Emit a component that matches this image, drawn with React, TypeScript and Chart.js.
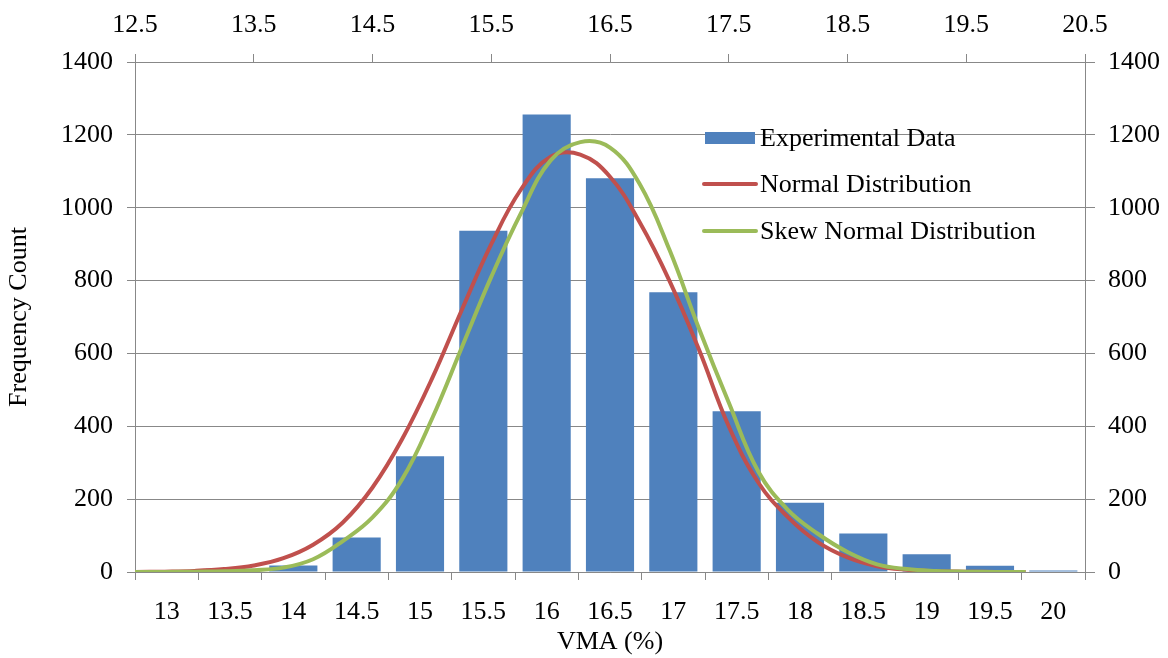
import React, { useEffect, useRef } from 'react';
import { Chart, registerables } from 'chart.js';

Chart.register(...registerables);

// ---- Data ----
const CATEGORIES = ['13', '13.5', '14', '14.5', '15', '15.5', '16', '16.5', '17', '17.5', '18', '18.5', '19', '19.5', '20'];
const EXPERIMENTAL = [1, 9, 18, 95, 318, 937, 1256, 1081, 768, 441, 190, 106, 49, 17, 4];

const CURVE_X = [12.5, 12.75, 13, 13.25, 13.5, 13.75, 14, 14.25, 14.5, 14.75, 15, 15.25, 15.5, 15.75, 16, 16.25, 16.5, 16.75, 17, 17.25, 17.5, 17.75, 18, 18.25, 18.5, 18.75, 19, 19.25, 19.5, 19.75, 20];
const NORMAL = [0, 1, 3, 8, 18, 38, 75, 136, 232, 365, 530, 718, 900, 1050, 1140, 1146, 1085, 960, 800, 610, 400, 245, 150, 82, 40, 16, 6, 2, 1, 0, 0];
const SKEW = [0, 0, 1, 2, 5, 12, 35, 85, 150, 255, 420, 615, 810, 985, 1130, 1180, 1165, 1065, 885, 668, 465, 275, 170, 105, 55, 21, 8, 3, 1, 0, 0];

const TOP_TICKS = [12.5, 13.5, 14.5, 15.5, 16.5, 17.5, 18.5, 19.5, 20.5];
const Y_MIN = 0;
const Y_MAX = 1400;
const Y_STEP = 200;

const LABEL_BARS = 'Experimental Data';
const LABEL_NORMAL = 'Normal Distribution';
const LABEL_SKEW = 'Skew Normal Distribution';
const X_TITLE = 'VMA (%)';
const Y_TITLE = 'Frequency Count';

const BLUE = '#4F81BD';
const RED = '#C0504D';
const GREEN = '#9BBB59';
const AXIS = '#888888';
const FONT = '"Liberation Serif", "Times New Roman", serif';

const insideLegend = {
  id: 'insideLegend',
  afterDraw(chart: any) {
    const ctx = chart.ctx as CanvasRenderingContext2D;
    const area = chart.chartArea;
    const x0 = area.left + 568;
    const rows = [area.top + 76, area.top + 122, area.top + 169];
    const ds = chart.data.datasets;
    ctx.save();
    ctx.font = `26px ${FONT}`;
    ctx.fillStyle = '#000';
    ctx.textBaseline = 'middle';
    ds.forEach((d: any, i: number) => {
      const y = rows[i];
      if (d.type === 'line') {
        ctx.strokeStyle = d.borderColor;
        ctx.lineWidth = 4;
        ctx.lineCap = 'round';
        ctx.beginPath();
        ctx.moveTo(x0 + 1, y);
        ctx.lineTo(x0 + 53, y);
        ctx.stroke();
      } else {
        ctx.fillStyle = d.backgroundColor;
        ctx.fillRect(x0 + 2, y - 6, 50, 12);
      }
      ctx.fillStyle = '#000';
      ctx.fillText(d.label, x0 + 57, y + 1);
    });
    ctx.restore();
  },
};

export default function App() {
  const ref = useRef<HTMLCanvasElement | null>(null);

  useEffect(() => {
    if (!ref.current) return;
    const tickFont = { family: FONT, size: 26 };
    const chart = new Chart(ref.current, {
      type: 'bar',
      data: {
        labels: CATEGORIES,
        datasets: [
          {
            type: 'bar',
            label: LABEL_BARS,
            data: EXPERIMENTAL,
            backgroundColor: BLUE,
            borderWidth: 0,
            barPercentage: 0.76,
            categoryPercentage: 1,
            grouped: false,
            xAxisID: 'x',
            yAxisID: 'y',
            order: 3,
          } as any,
          {
            type: 'line',
            label: LABEL_NORMAL,
            data: CURVE_X.map((x, i) => ({ x, y: NORMAL[i] })),
            borderColor: RED,
            backgroundColor: RED,
            borderWidth: 4,
            pointRadius: 0,
            tension: 0.4,
            fill: false,
            xAxisID: 'x2',
            yAxisID: 'y2',
            order: 2,
          } as any,
          {
            type: 'line',
            label: LABEL_SKEW,
            data: CURVE_X.map((x, i) => ({ x, y: SKEW[i] })),
            borderColor: GREEN,
            backgroundColor: GREEN,
            borderWidth: 4,
            pointRadius: 0,
            tension: 0.4,
            fill: false,
            xAxisID: 'x2',
            yAxisID: 'y2',
            order: 1,
          } as any,
        ],
      },
      options: {
        responsive: false,
        animation: false,
        devicePixelRatio: 1,
        layout: { padding: 0 },
        plugins: {
          legend: { display: false },
          tooltip: { enabled: false },
        },
        scales: {
          x: {
            type: 'category',
            position: 'bottom',
            offset: true,
            grid: { drawOnChartArea: false, offset: true, tickLength: 8, color: AXIS },
            border: { display: true, color: AXIS },
            ticks: { font: tickFont, color: '#000', padding: 17, autoSkip: false, maxRotation: 0 },
            title: { display: true, text: X_TITLE, font: tickFont, color: '#000', padding: { top: 0, bottom: 0 } },
            afterFit: (s: any) => { s.height = 86; },
          },
          x2: {
            type: 'linear',
            position: 'top',
            offset: false,
            min: TOP_TICKS[0],
            max: TOP_TICKS[TOP_TICKS.length - 1],
            grid: { drawOnChartArea: false, offset: false, tickLength: 8, color: AXIS },
            border: { display: true, color: AXIS },
            ticks: { font: tickFont, color: '#000', padding: 13, callback: (v: any) => Number(v).toFixed(1) },
            afterBuildTicks: (s: any) => { s.ticks = TOP_TICKS.map((v) => ({ value: v })); },
            afterFit: (s: any) => { s.height = 62; },
          },
          y: {
            type: 'linear',
            position: 'left',
            min: Y_MIN,
            max: Y_MAX,
            grid: { color: AXIS, tickLength: 8 },
            border: { display: true, color: AXIS },
            ticks: { font: tickFont, color: '#000', padding: 14, stepSize: Y_STEP, callback: (v: any) => String(v) },
            title: { display: true, text: Y_TITLE, font: tickFont, color: '#000', padding: { top: 4, bottom: 0 } },
            afterFit: (s: any) => { s.width = 135; },
          },
          y2: {
            type: 'linear',
            position: 'right',
            min: Y_MIN,
            max: Y_MAX,
            grid: { drawOnChartArea: false, color: AXIS, tickLength: 10 },
            border: { display: true, color: AXIS },
            ticks: { font: tickFont, color: '#000', padding: 13, stepSize: Y_STEP, callback: (v: any) => String(v) },
            afterFit: (s: any) => { s.width = 83; },
          },
        },
      } as any,
      plugins: [insideLegend],
    });
    return () => chart.destroy();
  }, []);

  return (
    <div style={{ position: 'fixed', left: 0, top: 0, width: 1168, height: 658, background: '#fff' }}>
      <canvas ref={ref} width={1168} height={658} style={{ width: 1168, height: 658, display: 'block' }} />
    </div>
  );
}
